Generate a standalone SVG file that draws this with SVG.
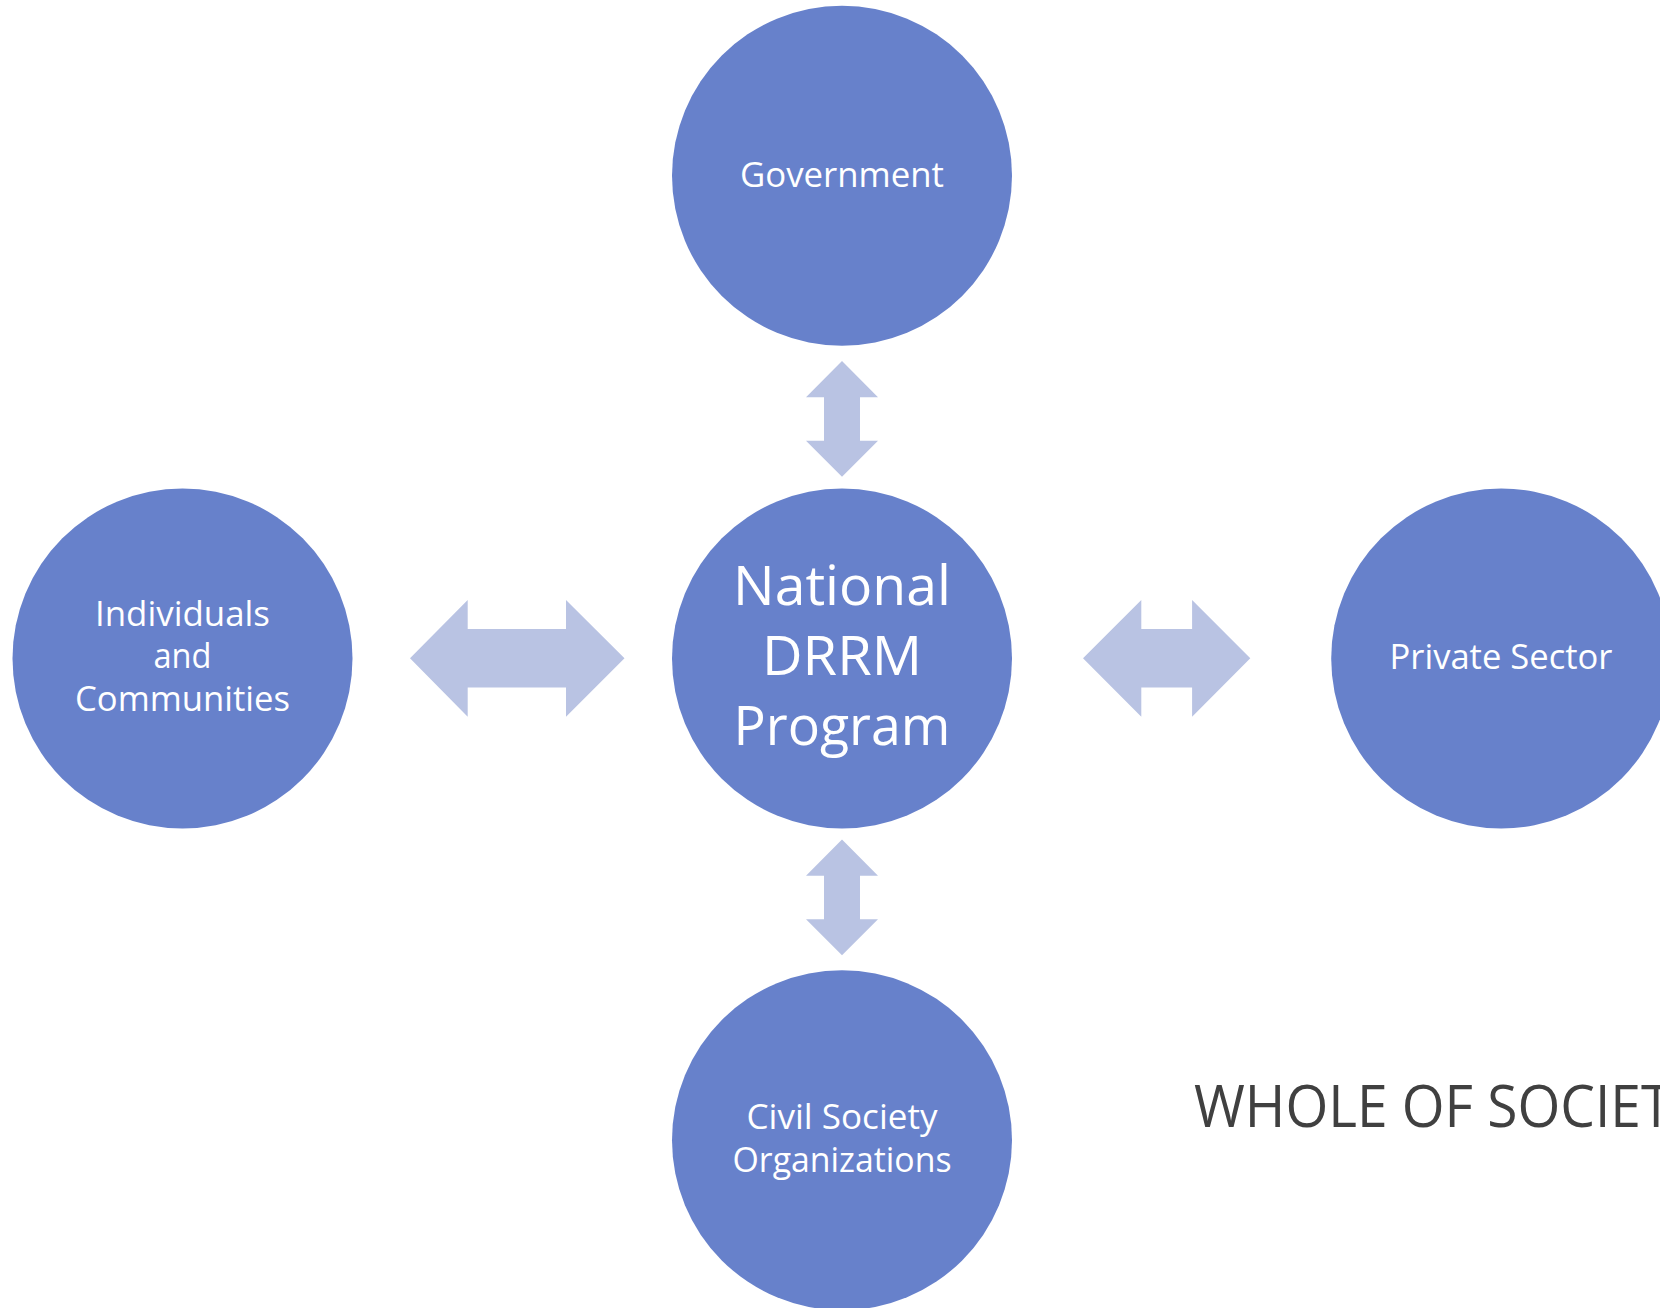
<svg xmlns="http://www.w3.org/2000/svg" width="1660" height="1308" viewBox="0 0 1660 1308">
<style>
.node{fill:#6781CB}
.arrow{fill:#B9C3E3}
.lbl{font-family:"Open Sans","Noto Sans",sans-serif;fill:#FFFFFF;text-anchor:middle}
.title{font-family:"Open Sans","Noto Sans",sans-serif;fill:#404040}
</style>
<rect width="1660" height="1308" fill="#FFFFFF"/>
<g id="connectors">
<polygon class="arrow" points="842,361 878,397.3 860,397.3 860,440.7 878,440.7 842,476.7 806,440.7 824,440.7 824,397.3 806,397.3"/>
<polygon class="arrow" points="842,839.5 878,875.8 860,875.8 860,919.2 878,919.2 842,955.2 806,919.2 824,919.2 824,875.8 806,875.8"/>
<polygon class="arrow" points="410,658.3 467.7,600 467.7,629 566,629 566,600 624.5,658.3 566,716.7 566,687.5 467.7,687.5 467.7,716.7"/>
<polygon class="arrow" points="1083,658.3 1141.3,600 1141.3,629 1192.1,629 1192.1,600 1250.3,658.3 1192.1,716.7 1192.1,687.5 1141.3,687.5 1141.3,716.7"/>
</g>
<g id="government">
<circle class="node" cx="842" cy="175.7" r="170"/>
<text class="lbl" x="842" y="186.7" font-size="35" textLength="204" lengthAdjust="spacingAndGlyphs">Government</text>
</g>
<g id="national">
<circle class="node" cx="842" cy="658.5" r="170"/>
<text class="lbl" x="842" y="605" font-size="54.5" textLength="218" lengthAdjust="spacingAndGlyphs">National</text>
<text class="lbl" x="842" y="675" font-size="54.5" textLength="160" lengthAdjust="spacingAndGlyphs">DRRM</text>
<text class="lbl" x="842" y="745" font-size="54.5" textLength="217" lengthAdjust="spacingAndGlyphs">Program</text>
</g>
<g id="individuals">
<circle class="node" cx="182.5" cy="658.5" r="170"/>
<text class="lbl" x="182.5" y="626" font-size="34" textLength="175" lengthAdjust="spacingAndGlyphs">Individuals</text>
<text class="lbl" x="182.5" y="668.3" font-size="34" textLength="58" lengthAdjust="spacingAndGlyphs">and</text>
<text class="lbl" x="182.5" y="710.7" font-size="34" textLength="215" lengthAdjust="spacingAndGlyphs">Communities</text>
</g>
<g id="private">
<circle class="node" cx="1501.2" cy="658.5" r="170"/>
<text class="lbl" x="1501" y="669" font-size="35" textLength="223" lengthAdjust="spacingAndGlyphs">Private Sector</text>
</g>
<g id="civil">
<circle class="node" cx="842" cy="1140.2" r="170"/>
<text class="lbl" x="842" y="1128.5" font-size="34" textLength="191" lengthAdjust="spacingAndGlyphs">Civil Society</text>
<text class="lbl" x="842" y="1171.5" font-size="34" textLength="219" lengthAdjust="spacingAndGlyphs">Organizations</text>
</g>
<text class="title" x="1194" y="1127.3" font-size="58" textLength="508" lengthAdjust="spacingAndGlyphs">WHOLE OF SOCIETY</text>
</svg>
